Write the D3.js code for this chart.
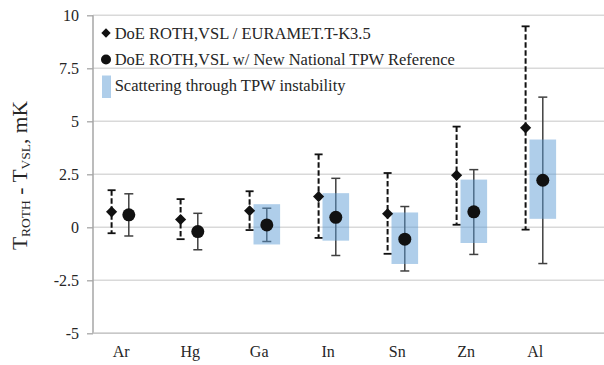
<!DOCTYPE html>
<html><head><meta charset="utf-8">
<script src="https://cdn.jsdelivr.net/npm/d3@7"></script>
<style>body{margin:0;background:#fff}svg{display:block}</style>
</head><body>
<script>
const categories = ["Ar","Hg","Ga","In","Sn","Zn","Al"];
const eurametValues = [0.73,0.37,0.78,1.45,0.64,2.45,4.69];
const eurametUpper  = [1.75,1.33,1.70,3.44,2.56,4.75,9.48];
const eurametLower  = [-0.28,-0.56,-0.13,-0.50,-1.25,0.12,-0.11];
const newRefValues  = [0.59,-0.20,0.11,0.47,-0.56,0.73,2.22];
const newRefUpper   = [1.58,0.66,0.90,2.31,0.98,2.72,6.14];
const newRefLower   = [-0.41,-1.06,-0.67,-1.33,-2.06,-1.28,-1.71];
const scatterHigh   = [null,null,1.09,1.61,0.70,2.25,4.14];
const scatterLow    = [null,null,-0.81,-0.63,-1.73,-0.74,0.40];
const yTicks = [-5,-2.5,0,2.5,5,7.5,10];
const legendLabels = ["DoE ROTH,VSL / EURAMET.T-K3.5","DoE ROTH,VSL w/ New National TPW Reference","Scattering through TPW instability"];

const W=604,H=365;
const svg=d3.select("body").append("svg").attr("width",W).attr("height",H);
const font="'Liberation Serif','Times New Roman',serif";
const txt="#262626";

const y=d3.scaleLinear().domain([-5,10]).range([333.3,15.3]);
const x=d3.scaleBand().domain(categories).range([85.7,568.7]).paddingInner(0).paddingOuter(0);
const sub=d3.scalePoint().domain(["euramet","newref"]).range([-8.6,8.6]);
const cx=(c,s)=>x(c)+x.bandwidth()/2+sub(s);

// gridlines
svg.append("g").selectAll("line").data(yTicks).join("line")
  .attr("x1",93).attr("x2",604).attr("y1",d=>y(d)).attr("y2",d=>y(d))
  .attr("stroke","#d9d9d9").attr("stroke-width",1.5);

// y axis
const yAxis=d3.axisLeft(y).tickValues(yTicks).tickSize(6).tickPadding(8).tickFormat(d=>String(d));
const ga=svg.append("g").attr("transform","translate(93,0)").call(yAxis);
ga.attr("font-family",null).attr("font-size",null);
ga.select(".domain").attr("stroke","#a6a6a6").attr("stroke-width",1.5).attr("d","M0,15.3V333.3");
ga.selectAll(".tick line").attr("stroke","#a6a6a6").attr("stroke-width",1.3);
ga.selectAll(".tick text").style("font-family",font).style("font-size","16px").attr("fill",txt);

// x axis line
svg.append("line").attr("x1",93).attr("x2",604).attr("y1",y(-5)).attr("y2",y(-5))
  .attr("stroke","#c8c8c8").attr("stroke-width",1.5);

// category labels
const xAxis=d3.axisBottom(x).tickSize(0).tickPadding(12.5);
const gx=svg.append("g").attr("transform",`translate(1,${y(-5)})`).call(xAxis);
gx.attr("font-family",null).attr("font-size",null);
gx.select(".domain").remove();
gx.selectAll(".tick text").style("font-family",font).style("font-size","16px").attr("fill",txt);

// EURAMET error bars (dashed)
const eg=svg.append("g");
categories.forEach((c,i)=>{
  const xx=cx(c,"euramet");
  eg.append("line").attr("x1",xx).attr("x2",xx).attr("y1",y(eurametUpper[i])).attr("y2",y(eurametLower[i]))
    .attr("stroke","#111").attr("stroke-width",2).attr("stroke-dasharray","5.5,2.5");
  [eurametUpper[i],eurametLower[i]].forEach(v=>{
    eg.append("line").attr("x1",xx-4).attr("x2",xx+4).attr("y1",y(v)).attr("y2",y(v))
      .attr("stroke","#111").attr("stroke-width",1.8);
  });
});
// new reference error bars
const ng=svg.append("g");
categories.forEach((c,i)=>{
  const xx=cx(c,"newref");
  ng.append("line").attr("x1",xx).attr("x2",xx).attr("y1",y(newRefUpper[i])).attr("y2",y(newRefLower[i]))
    .attr("stroke","#404040").attr("stroke-width",1.5);
  [newRefUpper[i],newRefLower[i]].forEach(v=>{
    ng.append("line").attr("x1",xx-4.5).attr("x2",xx+4.5).attr("y1",y(v)).attr("y2",y(v))
      .attr("stroke","#404040").attr("stroke-width",1.5);
  });
});
// scattering boxes
svg.append("g").selectAll("rect").data(categories.map((c,i)=>({c,hi:scatterHigh[i],lo:scatterLow[i]})).filter(d=>d.hi!=null))
  .join("rect")
  .attr("x",d=>cx(d.c,"newref")-13.3).attr("width",26.6)
  .attr("y",d=>y(d.hi)).attr("height",d=>y(d.lo)-y(d.hi))
  .attr("fill","#5b9bd5").attr("fill-opacity",0.49);

// markers
svg.append("g").selectAll("path").data(categories.map((c,i)=>({c,v:eurametValues[i]})))
  .join("path").attr("d",d3.symbol().type(d3.symbolSquare).size(62))
  .attr("transform",d=>`translate(${cx(d.c,"euramet")},${y(d.v)}) rotate(45)`).attr("fill","#111");
svg.append("g").selectAll("circle").data(categories.map((c,i)=>({c,v:newRefValues[i]})))
  .join("circle").attr("cx",d=>cx(d.c,"newref")).attr("cy",d=>y(d.v)).attr("r",6.5).attr("fill","#111");

// legend
const lg=svg.append("g");
const lx=106, lBase=[38.5,65,90.5];
lg.append("path").attr("d",d3.symbol().type(d3.symbolSquare).size(44)).attr("transform",`translate(${lx},33) rotate(45)`).attr("fill","#111");
lg.append("circle").attr("cx",lx).attr("cy",59.5).attr("r",5).attr("fill","#111");
lg.append("rect").attr("x",lx-4).attr("y",75.5).attr("width",9).attr("height",22.5).attr("fill","#5b9bd5").attr("fill-opacity",0.49);
lg.selectAll("text").data(legendLabels).join("text")
  .attr("x",114.7).attr("y",(d,i)=>lBase[i]).text(d=>d)
  .style("font-family",font).style("font-size","16.5px").attr("fill",txt);

// y title
const t=svg.append("text").attr("transform","translate(27,175.5) rotate(-90)").attr("text-anchor","middle")
  .style("font-family",font).attr("fill",txt).style("font-size","21.5px");
t.append("tspan").text("T");
t.append("tspan").text("ROTH").style("font-size","13.5px").attr("dy",3);
t.append("tspan").text(" - T").attr("dy",-3);
t.append("tspan").text("VSL").style("font-size","13.5px").attr("dy",3);
t.append("tspan").text(", mK").attr("dy",-3);
</script>
</body></html>
